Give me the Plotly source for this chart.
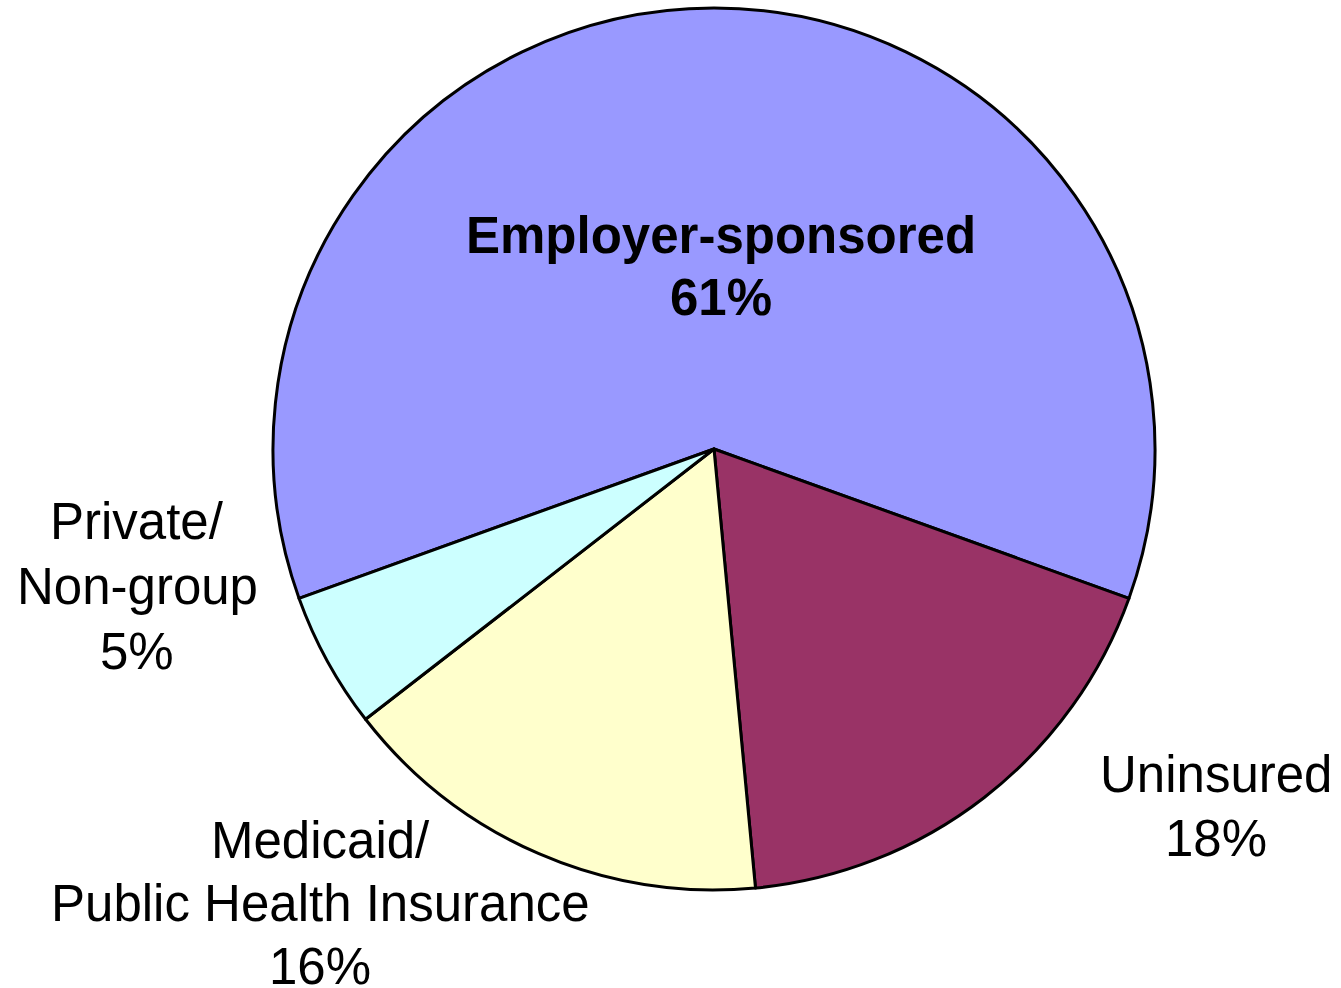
import plotly.graph_objects as go

labels = ["Employer-sponsored", "Uninsured", "Medicaid/<br>Public Health Insurance", "Private/<br>Non-group"]
values = [61, 18, 16, 5]
colors = ["#9999FF", "#993366", "#FFFFCC", "#CCFFFF"]
bold = [True, False, False, False]
# label placement: centre x and first-line centre y (pixels), line spacing (pixels)
label_px = [(721, 235, 62), (1216, 774, 64), (320, 840, 63), (137, 521, 65)]

W, H = 1341, 988
cx, cy, r = 714, 449, 441
FS = 51

fig = go.Figure(go.Pie(
    labels=labels, values=values, sort=False, direction="clockwise",
    rotation=-109.8,
    marker=dict(colors=colors, line=dict(color="black", width=3)),
    textinfo="none", hoverinfo="label+percent", showlegend=False,
    domain=dict(x=[(cx - r) / W, (cx + r) / W], y=[(H - cy - r) / H, (H - cy + r) / H]),
))

for lab, v, b, (px, py, dy) in zip(labels, values, bold, label_px):
    lines = lab.split("<br>") + [f"{v}%"]
    for i, ln in enumerate(lines):
        txt = f"<b>{ln}</b>" if b else ln
        fig.add_annotation(x=px / W, y=1 - (py + i * dy) / H, xref="paper", yref="paper",
                           text=txt, showarrow=False, xanchor="center", yanchor="middle",
                           font=dict(family="Liberation Sans, Arial", size=FS, color="black"))

fig.update_layout(width=W, height=H, margin=dict(l=0, r=0, t=0, b=0),
                  paper_bgcolor="white", plot_bgcolor="white")
fig.write_html("out.html")
